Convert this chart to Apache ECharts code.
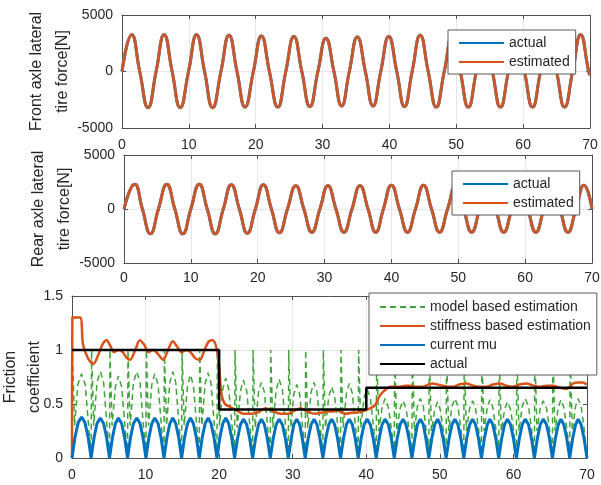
<!DOCTYPE html>
<html>
<head>
<meta charset="utf-8">
<script src="https://cdn.jsdelivr.net/npm/echarts@6/dist/echarts.min.js"></script>
<style>
  html, body { margin: 0; padding: 0; background: #fff; }
  #chart { width: 601px; height: 485px; }
</style>
</head>
<body>
<div id="chart"></div>
<script>
// ---- data ----
const timeTicks = [0, 10, 20, 30, 40, 50, 60, 70];
const forceTicks = [-5000, 0, 5000];
const muTicks = [0, 0.5, 1, 1.5];

// front axle lateral force: zero crossings / peaks / troughs (s, N)
const frontT = [0, 1.45, 2.65, 3.9, 5.1, 6.3, 7.5, 8.7, 9.95, 11.15, 12.35, 13.55, 14.8, 16.0, 17.2, 18.4,
  19.65, 20.85, 22.05, 23.3, 24.5, 25.7, 26.9, 28.1, 29.3, 30.5, 31.7, 32.85, 34.0, 35.2, 36.4, 37.55,
  38.7, 39.9, 41.1, 42.25, 43.4, 44.6, 45.8, 47.0, 48.2, 49.4, 50.6, 51.8, 53.0, 54.2, 55.4, 56.6,
  57.8, 59.0, 60.2, 61.4, 62.6, 63.8, 65.0, 66.2, 67.4, 68.6, 69.8, 70];
const frontActual = [0, 3250, 0, -3200, 0, 3250, 0, -3200, 0, 3250, 0, -3200, 0, 3200, 0, -3150,
  0, 3150, 0, -3150, 0, 3100, 0, -3100, 0, 2950, 0, -3050, 0, 3050, 0, -3050,
  0, 3100, 0, -3100, 0, 3200, 0, -3150, 0, 3150, 0, -3150, 0, 3150, 0, -3150,
  0, 3150, 0, -3150, 0, 3150, 0, -3150, 0, 3250, 0, -300];
const frontEst = [0, 3250, 0, -3200, 0, 3250, 0, -3200, 0, 3250, 0, -3200, 0, 3200, 0, -3150,
  0, 3150, 0, -3150, 0, 3100, 0, -3100, 0, 2950, 0, -3050, 0, 3050, 0, -3050,
  0, 3100, 0, -3100, 0, 3200, 0, -3150, 0, 3150, 0, -3150, 0, 3150, 0, -3150,
  0, 3150, 0, -3150, 0, 3150, 0, -3150, 0, 3250, 0, -300];

// rear axle lateral force
const rearT = [0, 1.6, 2.75, 3.95, 5.15, 6.4, 7.6, 8.8, 10.0, 11.25, 12.45, 13.65, 14.85, 16.05, 17.25, 18.45,
  19.65, 20.85, 22.05, 23.25, 24.45, 25.7, 26.9, 28.1, 29.3, 30.5, 31.7, 32.9, 34.1, 35.3, 36.5, 37.65,
  38.8, 40.0, 41.2, 42.4, 43.6, 44.8, 46.0, 47.2, 48.4, 49.6, 50.8, 52.0, 53.2, 54.4, 55.6, 56.8,
  58.0, 59.2, 60.4, 61.6, 62.8, 64.0, 65.2, 66.4, 67.6, 68.8, 70.0];
const rearActual = [0, 2300, 0, -2300, 0, 2300, 0, -2300, 0, 2300, 0, -2300, 0, 2250, 0, -2250,
  0, 2250, 0, -2200, 0, 2150, 0, -2150, 0, 2150, 0, -2150, 0, 2150, 0, -2150,
  0, 2200, 0, -2150, 0, 2200, 0, -2150, 0, 2150, 0, -2150, 0, 2150, 0, -2150,
  0, 2150, 0, -2150, 0, 2150, 0, -2150, 0, 2200, 0];
const rearEst = [0, 2300, 0, -2300, 0, 2300, 0, -2300, 0, 2300, 0, -2300, 0, 2250, 0, -2250,
  0, 2250, 0, -2200, 0, 2150, 0, -2150, 0, 2150, 0, -2150, 0, 2150, 0, -2150,
  0, 2200, 0, -2150, 0, 2200, 0, -2150, 0, 2150, 0, -2150, 0, 2150, 0, -2150,
  0, 2150, 0, -2150, 0, 2150, 0, -2150, 0, 2200, 0];

// friction coefficient panel: [time, value]
const muActual = [[0, 1], [20, 1], [20, 0.45], [40, 0.45], [40, 0.65], [70, 0.65]];

const muCurrent = [
  [0,0],[0.4,0.19],[0.85,0.33],[1.3,0.38],[1.75,0.33],[2.2,0.19],
  [2.6,0],[3.0,0.19],[3.4,0.32],[3.85,0.37],[4.3,0.32],[4.7,0.19],
  [5.1,0],[5.5,0.19],[5.9,0.32],[6.3,0.37],[6.75,0.32],[7.15,0.19],
  [7.55,0],[7.95,0.19],[8.35,0.32],[8.8,0.37],[9.25,0.32],[9.65,0.19],
  [10.05,0],[10.45,0.19],[10.85,0.32],[11.25,0.37],[11.7,0.32],[12.1,0.19],
  [12.5,0],[12.9,0.19],[13.3,0.32],[13.7,0.37],[14.1,0.32],[14.5,0.19],
  [14.9,0],[15.3,0.19],[15.7,0.32],[16.1,0.37],[16.5,0.32],[16.9,0.19],
  [17.3,0],[17.7,0.19],[18.1,0.32],[18.5,0.37],[18.9,0.32],[19.3,0.19],
  [19.7,0],[20.1,0.19],[20.5,0.32],[20.9,0.37],[21.3,0.32],[21.7,0.19],
  [22.1,0],[22.5,0.18],[22.9,0.31],[23.3,0.36],[23.75,0.31],[24.15,0.18],
  [24.55,0],[24.95,0.18],[25.35,0.31],[25.75,0.36],[26.15,0.31],[26.55,0.18],
  [26.95,0],[27.35,0.18],[27.75,0.31],[28.15,0.36],[28.6,0.31],[29.0,0.18],
  [29.4,0],[29.8,0.18],[30.15,0.31],[30.55,0.36],[30.95,0.31],[31.3,0.18],
  [31.7,0],[32.1,0.18],[32.5,0.31],[32.9,0.36],[33.3,0.31],[33.7,0.18],
  [34.1,0],[34.5,0.18],[34.9,0.31],[35.3,0.36],[35.7,0.31],[36.1,0.18],
  [36.5,0],[36.9,0.18],[37.3,0.31],[37.7,0.36],[38.1,0.31],[38.5,0.18],
  [38.9,0],[39.3,0.18],[39.7,0.31],[40.1,0.36],[40.55,0.31],[40.95,0.18],
  [41.35,0],[41.75,0.18],[42.15,0.31],[42.55,0.36],[43.0,0.31],[43.4,0.18],
  [43.8,0],[44.2,0.18],[44.6,0.31],[45.0,0.36],[45.4,0.31],[45.8,0.18],
  [46.2,0],[46.6,0.18],[46.95,0.31],[47.35,0.36],[47.75,0.31],[48.1,0.18],
  [48.5,0],[48.9,0.18],[49.3,0.31],[49.7,0.36],[50.05,0.31],[50.45,0.18],
  [50.85,0],[51.25,0.18],[51.65,0.31],[52.05,0.36],[52.45,0.31],[52.85,0.18],
  [53.25,0],[53.65,0.18],[54.05,0.31],[54.45,0.36],[54.85,0.31],[55.25,0.18],
  [55.65,0],[56.05,0.18],[56.45,0.31],[56.8,0.36],[57.2,0.31],[57.6,0.18],
  [58.0,0],[58.4,0.18],[58.8,0.31],[59.2,0.36],[59.6,0.31],[60.0,0.18],
  [60.4,0],[60.8,0.18],[61.2,0.31],[61.6,0.36],[62.05,0.31],[62.45,0.18],
  [62.85,0],[63.25,0.18],[63.65,0.31],[64.05,0.36],[64.5,0.31],[64.9,0.18],
  [65.3,0],[65.7,0.18],[66.1,0.31],[66.45,0.36],[66.85,0.31],[67.25,0.18],
  [67.65,0],[68.05,0.18],[68.45,0.31],[68.8,0.36],[69.2,0.31],[69.6,0.18],[70,0]
];

const muStiffness = [
  [0,0],[0.05,1.3],[1.1,1.3],[1.5,1.05],[2.2,0.92],[2.9,0.87],[3.6,0.96],[4.2,1.06],[4.7,1.09],
  [5.2,1.04],[5.7,0.98],[6.3,1.0],[6.9,0.98],[7.4,0.93],[7.9,0.91],[8.6,1.0],[9.2,1.09],[9.8,1.05],
  [10.4,0.98],[11.0,1.0],[11.6,0.97],[12.4,0.91],[13.0,0.99],[13.7,1.08],[14.3,1.03],[14.9,0.98],
  [15.5,1.0],[16.1,0.98],[16.8,0.92],[17.4,0.91],[18.0,1.0],[18.6,1.08],[19.1,1.09],[19.6,1.03],
  [20.0,0.85],[20.3,0.6],[20.8,0.5],[21.6,0.47],[22.4,0.44],[23.3,0.41],[24.3,0.41],[25.2,0.42],
  [26.3,0.46],[27.2,0.44],[28.3,0.41],[29.4,0.41],[30.3,0.44],[31.0,0.46],[32.0,0.43],[33.0,0.41],
  [34.0,0.42],[34.6,0.43],[35.4,0.43],[36.0,0.44],[36.7,0.42],[37.3,0.41],[38.0,0.42],[38.7,0.42],
  [39.3,0.43],[39.8,0.44],[40.5,0.46],[41.2,0.49],[41.6,0.55],[42.1,0.6],[42.6,0.63],[43.2,0.66],
  [44.0,0.66],[44.6,0.66],[45.3,0.67],[45.9,0.67],[46.8,0.66],[47.7,0.66],[48.4,0.68],[49.0,0.69],
  [49.7,0.68],[50.4,0.67],[51.1,0.66],[51.8,0.66],[52.6,0.68],[53.6,0.69],[54.5,0.67],[55.4,0.66],
  [56.3,0.66],[57.2,0.68],[58.2,0.69],[59.0,0.67],[59.9,0.66],[60.8,0.68],[61.8,0.69],[62.7,0.67],
  [63.6,0.66],[64.5,0.67],[65.4,0.67],[66.3,0.65],[67.2,0.64],[67.7,0.66],[68.1,0.69],[68.8,0.7],
  [69.4,0.7],[70,0.68]
];

const muModel = [
  [0,0.03],[0.06,1],[0.35,0.3],[0.8,0.68],[1.3,0.78],[1.8,0.68],[2.25,0.3],
  [2.6,0.03],[2.66,1],[2.95,0.3],[3.4,0.7],[3.85,0.8],[4.3,0.7],[4.75,0.3],
  [5.1,0.03],[5.16,1],[5.45,0.3],[5.9,0.66],[6.3,0.76],[6.75,0.66],[7.2,0.3],
  [7.55,0.03],[7.61,1],[7.9,0.3],[8.35,0.7],[8.8,0.8],[9.25,0.7],[9.7,0.3],
  [10.05,0.03],[10.11,1],[10.4,0.3],[10.85,0.68],[11.25,0.78],[11.7,0.68],[12.15,0.3],
  [12.5,0.03],[12.56,1],[12.85,0.3],[13.3,0.7],[13.7,0.8],[14.1,0.7],[14.55,0.3],
  [14.9,0.03],[14.96,1],[15.25,0.3],[15.7,0.67],[16.1,0.77],[16.5,0.67],[16.95,0.3],
  [17.3,0.03],[17.36,1],[17.65,0.3],[18.1,0.69],[18.5,0.79],[18.9,0.69],[19.35,0.3],
  [19.7,0.03],[19.76,1],[20.05,0.3],[20.5,0.64],[20.9,0.74],[21.3,0.64],[21.75,0.3],
  [22.1,0.03],[22.16,1],[22.45,0.28],[22.9,0.62],[23.3,0.72],[23.75,0.62],[24.2,0.28],
  [24.55,0.03],[24.61,1],[24.9,0.28],[25.35,0.61],[25.75,0.7],[26.15,0.61],[26.6,0.28],
  [26.95,0.03],[27.01,1],[27.3,0.28],[27.75,0.63],[28.15,0.73],[28.6,0.63],[29.05,0.28],
  [29.4,0.03],[29.46,1],[29.75,0.28],[30.15,0.59],[30.55,0.68],[30.95,0.59],[31.35,0.28],
  [31.7,0.03],[31.76,1],[32.05,0.28],[32.5,0.61],[32.9,0.7],[33.3,0.61],[33.75,0.28],
  [34.1,0.03],[34.16,1],[34.45,0.28],[34.9,0.57],[35.3,0.66],[35.7,0.57],[36.15,0.28],
  [36.5,0.03],[36.56,1],[36.85,0.28],[37.3,0.6],[37.7,0.69],[38.1,0.6],[38.55,0.28],
  [38.9,0.03],[38.96,1],[39.25,0.28],[39.7,0.56],[40.1,0.64],[40.55,0.56],[41.0,0.28],
  [41.35,0.03],[41.41,1],[41.7,0.25],[42.15,0.47],[42.55,0.55],[43.0,0.47],[43.45,0.25],
  [43.8,0.03],[43.86,1],[44.15,0.25],[44.6,0.46],[45.0,0.53],[45.4,0.46],[45.85,0.25],
  [46.2,0.03],[46.26,1],[46.55,0.25],[46.95,0.48],[47.35,0.55],[47.75,0.48],[48.15,0.25],
  [48.5,0.03],[48.56,1],[48.85,0.25],[49.3,0.45],[49.7,0.52],[50.05,0.45],[50.5,0.25],
  [50.85,0.03],[50.91,1],[51.2,0.25],[51.65,0.48],[52.05,0.55],[52.45,0.48],[52.9,0.25],
  [53.25,0.03],[53.31,1],[53.6,0.25],[54.05,0.46],[54.45,0.53],[54.85,0.46],[55.3,0.25],
  [55.65,0.03],[55.71,1],[56.0,0.25],[56.45,0.47],[56.8,0.54],[57.2,0.47],[57.65,0.25],
  [58.0,0.03],[58.06,1],[58.35,0.25],[58.8,0.45],[59.2,0.52],[59.6,0.45],[60.05,0.25],
  [60.4,0.03],[60.46,1],[60.75,0.25],[61.2,0.48],[61.6,0.55],[62.05,0.48],[62.5,0.25],
  [62.85,0.03],[62.91,1],[63.2,0.25],[63.65,0.46],[64.05,0.53],[64.5,0.46],[64.95,0.25],
  [65.3,0.03],[65.36,1],[65.65,0.25],[66.1,0.47],[66.45,0.54],[66.85,0.47],[67.3,0.25],
  [67.65,0.03],[67.71,1],[68.0,0.25],[68.45,0.48],[68.8,0.55],[69.2,0.48],[69.65,0.25],[70,0.03]
];

// ---- styling ----
const FONT = "'Liberation Sans', Arial, sans-serif";
const BLUE = '#0072BD';
const ORANGE = '#D95319';
const ORANGE_DARK = '#c8582e'; // orange drawn over blue reads slightly browner
const GREEN = '#3fa53a';
const BOX = '#505050';
const GRIDLINE = '#e6e6e6';

const zip = (t, v) => t.map((x, i) => [x, v[i]]);

// x axes: bottom one carries the labels, top one only the inward ticks (box look)
const makeX = (grid, top, margin) => ({
  type: 'value', gridIndex: grid, position: top ? 'top' : 'bottom',
  min: timeTicks[0], max: timeTicks[timeTicks.length - 1], interval: timeTicks[1] - timeTicks[0],
  axisLine: { show: true, onZero: false, lineStyle: { color: BOX, width: 1 } },
  axisTick: { show: true, inside: true, length: 4, lineStyle: { color: BOX } },
  axisLabel: { show: !top, fontSize: 14, color: '#262626', margin: margin, fontFamily: FONT },
  splitLine: { show: !top, lineStyle: { color: GRIDLINE, width: 1 } }
});

const makeY = (grid, right, ticks, name, gap, lh) => ({
  type: 'value', gridIndex: grid, position: right ? 'right' : 'left',
  min: ticks[0], max: ticks[ticks.length - 1], interval: ticks[1] - ticks[0],
  name: right ? '' : name, nameLocation: 'middle', nameGap: gap, nameMoveOverlap: false,
  nameTextStyle: { fontSize: 16, lineHeight: lh || 26, color: '#262626', fontFamily: FONT },
  axisLine: { show: true, onZero: false, lineStyle: { color: BOX, width: 1 } },
  axisTick: { show: true, inside: true, length: 4, lineStyle: { color: BOX } },
  axisLabel: { show: !right, fontSize: 14, color: '#262626', margin: 9, fontFamily: FONT,
    formatter: v => String(v) },
  splitLine: { show: !right, lineStyle: { color: GRIDLINE, width: 1 } }
});

const legendBase = {
  orient: 'vertical', selectedMode: false,
  backgroundColor: '#fff', borderColor: '#5a5a5a', borderWidth: 1,
  itemWidth: 45, itemHeight: 14, itemGap: 5,
  itemStyle: { color: 'rgba(0,0,0,0)', borderColor: 'rgba(0,0,0,0)', borderWidth: 0, opacity: 0 },
  textStyle: { fontSize: 14, lineHeight: 14, color: '#262626', fontFamily: FONT },
  formatter: n => n.trim()
};

const line = (name, xi, yi, data, color, width, extra) => Object.assign({
  name: name, type: 'line', xAxisIndex: xi, yAxisIndex: yi, data: data,
  symbol: 'none', showSymbol: false, animation: false,
  lineStyle: { color: color, width: width }, itemStyle: { color: color }
}, extra || {});

const estItem = n => ({ name: n, lineStyle: { color: ORANGE } });

const option = {
  animation: false,
  backgroundColor: '#fff',
  textStyle: { fontFamily: FONT },
  grid: [
    { left: 122, top: 15, width: 468, height: 113, outerBoundsMode: 'none' },
    { left: 124, top: 155, width: 468, height: 108, outerBoundsMode: 'none' },
    { left: 72, top: 296, width: 515, height: 162, outerBoundsMode: 'none' }
  ],
  xAxis: [makeX(0, false, 10), makeX(0, true), makeX(1, false, 8), makeX(1, true), makeX(2, false, 10), makeX(2, true)],
  yAxis: [
    makeY(0, false, forceTicks, 'Front axle lateral\ntire force[N]', 46), makeY(0, true, forceTicks),
    makeY(1, false, forceTicks, 'Rear axle lateral\ntire force[N]', 46), makeY(1, true, forceTicks),
    makeY(2, false, muTicks, 'Friction\ncoefficient', 25, 24), makeY(2, true, muTicks)
  ],
  legend: [
    Object.assign({}, legendBase, { left: 448, top: 30, padding: [6, 6, 5, 10], data: ['actual', estItem('estimated')] }),
    Object.assign({}, legendBase, { left: 452, top: 171, padding: [6, 6, 5, 10], data: ['actual ', estItem('estimated ')] }),
    Object.assign({}, legendBase, { left: 369, top: 293, padding: [7, 6, 4, 10],
      data: ['model based estimation', 'stiffness based estimation', 'current mu', 'actual  '] })
  ],
  series: [
    line('actual', 0, 0, zip(frontT, frontActual), BLUE, 3, { smooth: 0.5 }),
    line('estimated', 0, 0, zip(frontT, frontEst), ORANGE_DARK, 3, { smooth: 0.5 }),
    line('actual ', 2, 2, zip(rearT, rearActual), BLUE, 3, { smooth: 0.5 }),
    line('estimated ', 2, 2, zip(rearT, rearEst), ORANGE_DARK, 3, { smooth: 0.5 }),
    line('model based estimation', 4, 4, muModel, GREEN, 1.5,
      { lineStyle: { color: GREEN, width: 1.5, type: [6, 4] } }),
    line('stiffness based estimation', 4, 4, muStiffness, ORANGE, 2.5, { smooth: 0.3 }),
    line('current mu', 4, 4, muCurrent, BLUE, 3),
    line('actual  ', 4, 4, muActual, '#000000', 2.5)
  ]
};

const chart = echarts.init(document.getElementById('chart'));
chart.setOption(option);
</script>
</body>
</html>
